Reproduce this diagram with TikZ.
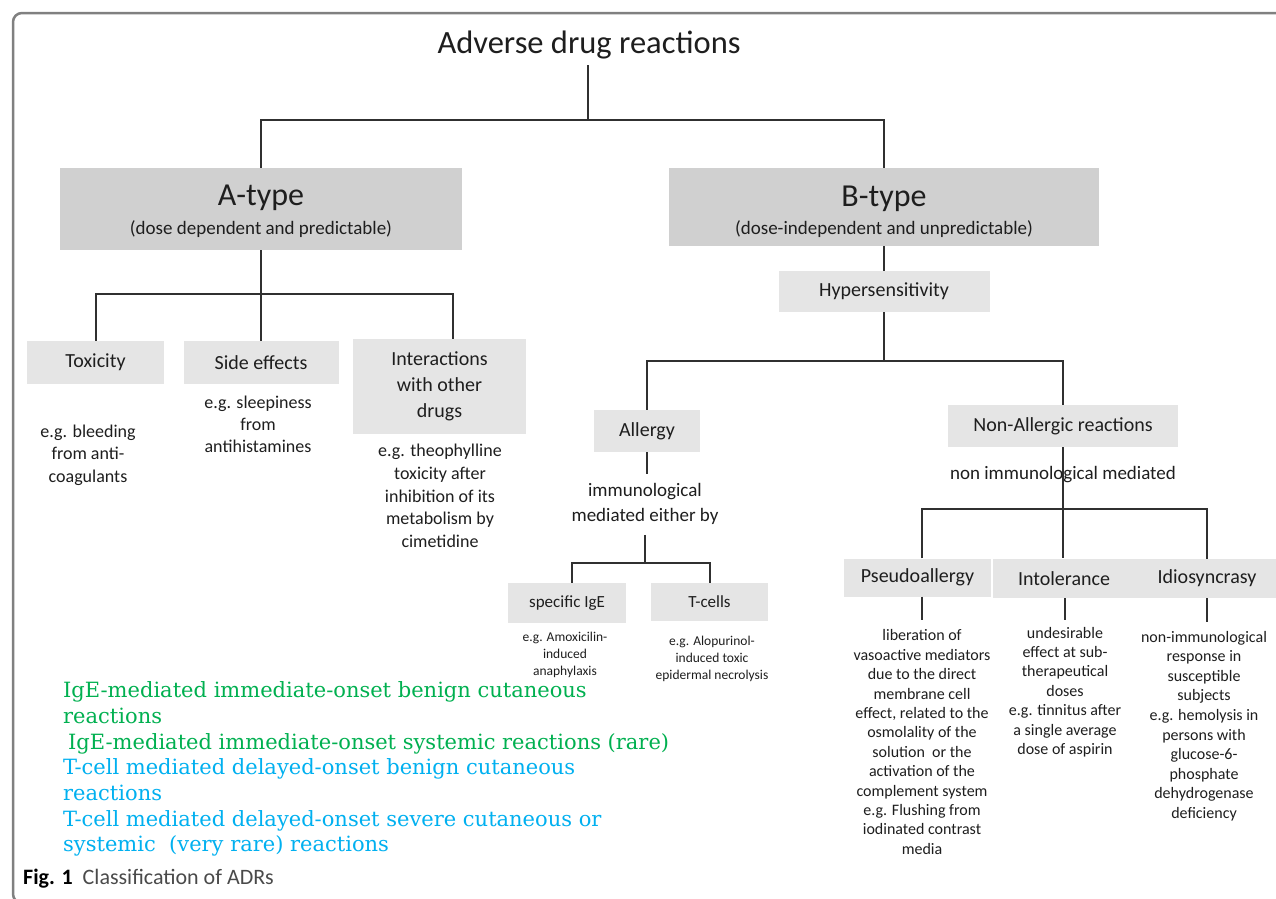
\documentclass[tikz,border=0pt]{standalone}
\usepackage{fontspec}
\setmainfont{Carlito}
\newfontfamily\serifnote{DejaVu Serif}
\usetikzlibrary{calc}
\definecolor{boxdark}{HTML}{D0D0D0}
\definecolor{boxlight}{HTML}{E5E5E5}
\definecolor{ink}{HTML}{1E1E1E}
\definecolor{linecol}{HTML}{303030}
\definecolor{grn}{HTML}{00B050}
\definecolor{blu}{HTML}{00B0F0}
\definecolor{framecol}{HTML}{808080}
\definecolor{capgray}{HTML}{4A4A4A}
\tikzset{
  darkbox/.style={fill=boxdark, inner sep=0pt},
  lightbox/.style={fill=boxlight, inner sep=0pt, text=ink, align=center, font=\fontsize{20}{26}\selectfont},
  lbl/.style={text=ink, inner sep=0pt, align=center},
  note/.style={text=ink, inner sep=0pt, align=center, font=\fontsize{18}{22.7}\selectfont},
  smallnote/.style={text=ink, inner sep=0pt, align=center, font=\fontsize{16}{19.4}\selectfont},
  tinynote/.style={text=ink, inner sep=0pt, align=center, font=\fontsize{13.5}{17.3}\selectfont},
  conn/.style={draw=linecol, line width=2pt},
  colortext/.style={anchor=west, inner sep=0pt, align=left, font=\serifnote\fontsize{21}{25.7}\selectfont}
}
\begin{document}
\begin{tikzpicture}[x=1pt,y=-1pt]
\useasboundingbox (0,0) rectangle (1276,898);
\fill[white] (0,0) rectangle (1276,898);
% frame
\draw[framecol, line width=2.5pt, rounded corners=9pt] (1290,13) -- (13,13) -- (13,903) -- (60,903);

% title
\node[lbl, font=\fontsize{32.5}{38}\selectfont] (title) at (589,45) {Adverse drug reactions};

% A-type / B-type
\node[darkbox, minimum width=402pt, minimum height=82pt] (atype) at (261,209) {};
\node[lbl, font=\fontsize{32}{36}\selectfont] (atypeT) at (261,198) {A-type};
\node[lbl, font=\fontsize{19}{22}\selectfont] (atypeS) at (261,229) {(dose dependent and predictable)};

\node[darkbox, minimum width=430pt, minimum height=78pt] (btype) at (884,207) {};
\node[lbl, font=\fontsize{32}{36}\selectfont] (btypeT) at (884,199) {B-type};
\node[lbl, font=\fontsize{19}{22}\selectfont] (btypeS) at (884,229) {(dose-independent and unpredictable)};

% A children
\node[lightbox, minimum width=137pt, minimum height=43pt] (tox) at (95.5,362.5) {Toxicity};
\node[lightbox, minimum width=155pt, minimum height=43pt] (side) at (261,362.5) {Side effects};
\node[lightbox, minimum width=173pt, minimum height=95pt] (inter) at (439.5,386.5) {Interactions\\with other\\drugs};

\node[note] (toxN) at (88,455) {e.g. bleeding\\from anti-\\coagulants};
\node[note, font=\fontsize{18}{22}\selectfont] (sideN) at (258,424) {e.g. sleepiness\\from\\antihistamines};
\node[note] (interN) at (440,496) {e.g. theophylline\\toxicity after\\inhibition of its\\metabolism by\\cimetidine};

% B children
\node[lightbox, minimum width=211pt, minimum height=41pt] (hyper) at (884,291.5) {Hypersensitivity};
\node[lightbox, minimum width=106pt, minimum height=42pt] (allergy) at (647,431) {Allergy};
\node[lightbox, minimum width=230pt, minimum height=42pt] (nonall) at (1063,426) {Non-Allergic reactions};

\node[lbl, font=\fontsize{19}{25}\selectfont] (immun) at (645,504) {immunological\\mediated either by};

\node[lightbox, minimum width=118pt, minimum height=40pt, font=\fontsize{17}{20}\selectfont] (ige) at (567,603) {specific IgE};
\node[lightbox, minimum width=117pt, minimum height=38pt, font=\fontsize{17}{20}\selectfont] (tc) at (709.5,602) {T-cells};
\node[tinynote] (igeN) at (565,655) {e.g. Amoxicilin-\\induced\\anaphylaxis};
\node[tinynote] (tcN) at (712,659) {e.g. Alopurinol-\\induced toxic\\epidermal necrolysis};

% line under Non-Allergic drawn before its label so the label sits on it
\coordinate (nbar) at (1063,509);
\draw[conn] (nonall.south) -- (1063,558);
\node[lbl, font=\fontsize{19}{22}\selectfont] (nonimm) at (1063,475) {non immunological mediated};

\node[lightbox, minimum width=147pt, minimum height=38pt] (pseudo) at (917.5,577.5) {Pseudoallergy};
\node[lightbox, minimum width=142pt, minimum height=39pt] (intol) at (1064,578.5) {Intolerance};
\node[lightbox, minimum width=146pt, minimum height=39pt] (idio) at (1207,578.5) {Idiosyncrasy};

\node[smallnote] (pseudoN) at (922,742) {liberation of\\vasoactive mediators\\due to the direct\\membrane cell\\effect, related to the\\osmolality of the\\solution\ \ or the\\activation of the\\complement system\\e.g. Flushing from\\iodinated contrast\\media};
\node[smallnote] (intolN) at (1065,692) {undesirable\\effect at sub-\\therapeutical\\doses\\e.g. tinnitus after\\a single average\\dose of aspirin};
\node[smallnote, font=\fontsize{16}{19.6}\selectfont] (idioN) at (1204,726) {non-immunological\\response in\\susceptible\\subjects\\e.g. hemolysis in\\persons with\\glucose-6-\\phosphate\\dehydrogenase\\deficiency};

% connectors top
\coordinate (tbar) at (588,120);
\draw[conn] (title.south -| tbar) ++(0,6) -- (tbar);
\draw[conn] (atype.north) |- (tbar) -| (btype.north);

% A tree
\coordinate (abar) at (261,294);
\coordinate (interTop) at (453,294);
\draw[conn] (atype.south) -- (side.north);
\draw[conn] (tox.north) |- (interTop) -- (interTop |- inter.north);

% B tree
\draw[conn] (btype.south) -- (hyper.north);
\coordinate (hbar) at (884,361);
\draw[conn] (hyper.south) -- (hbar);
\draw[conn] (allergy.north) |- (hbar) -| (nonall.north);

% allergy subtree
\draw[conn] (allergy.south) -- (647,474);
\coordinate (ibar) at (645,563);
\draw[conn] (immun.south) ++(0,10) -- (ibar);
\draw[conn] ($(ige.north)+(5,0)$) |- (ibar) -| (tc.north);

% non-allergic subtree
\draw[conn] ($(pseudo.north)+(4.5,0)$) |- (nbar) -| (idio.north);

% lines below bottom boxes
\draw[conn] ($(pseudo.south)+(4.5,0)$) -- ++(0,23);
\draw[conn] ($(intol.south)+(1,0)$) -- ++(0,22);
\draw[conn] (idio.south) -- ++(0,24);

% coloured notes
\node[colortext, text=grn] (green) at (63,718) {IgE-mediated immediate-onset benign cutaneous\\reactions\\\hspace*{5pt}IgE-mediated immediate-onset systemic reactions (rare)};
\node[colortext, text=blu] (blue) at (63,807.5) {T-cell mediated delayed-onset benign cutaneous\\reactions\\T-cell mediated delayed-onset severe cutaneous or\\systemic\ \ (very rare) reactions};

% caption
\node[anchor=west, inner sep=0pt, font=\fontsize{22}{26}\selectfont] (cap) at (23,879) {\textbf{Fig. 1}\ \ \textcolor{capgray}{Classification of ADRs}};
\end{tikzpicture}
\end{document}
